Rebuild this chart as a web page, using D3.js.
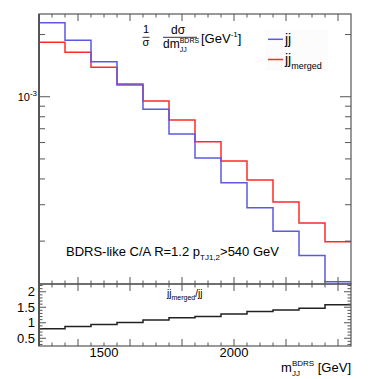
<!DOCTYPE html>
<html><head><meta charset="utf-8">
<script src="https://cdn.jsdelivr.net/npm/d3@7"></script>
<style>body{margin:0;background:#fff}svg{display:block}text{font-family:"Liberation Sans",Arial,sans-serif;fill:#000}</style>
</head><body><svg id="c" width="390" height="379"></svg>
<script>
const binEdges = [1250,1350,1450,1550,1650,1750,1850,1950,2050,2150,2250,2350,2450];
const jj = [2.28e-3,1.876e-3,1.477e-3,1.139e-3,8.69e-4,6.60e-4,5.05e-4,3.83e-4,2.90e-4,2.23e-4,1.706e-4,1.271e-4];
const jjMerged = [1.834e-3,1.641e-3,1.388e-3,1.152e-3,9.53e-4,7.71e-4,6.05e-4,4.88e-4,3.95e-4,3.09e-4,2.445e-4,1.985e-4];
const ratio = [0.81,0.88,0.94,1.01,1.09,1.16,1.20,1.28,1.36,1.41,1.47,1.58];
const xTickLabels = [1500,2000];
const ratioTickLabels = [0.5,1,1.5,2];

const svg = d3.select("#c");
const L=39,R=351,T=14,MB=284,RB=346;
const x = d3.scaleLinear().domain([1250,2450]).range([L,R]);
const y = d3.scaleLog().domain([1.24e-4,2.515e-3]).range([MB,T]);
const yr = d3.scaleLinear().domain([0.25,2.25]).range([RB,MB]);
const frameCol="#555";

function stepPath(vals, ys){
  const pts = vals.map((v,i)=>[binEdges[i],v]);
  pts.push([binEdges[binEdges.length-1], vals[vals.length-1]]);
  return d3.line().x(d=>x(d[0])).y(d=>ys(d[1])).curve(d3.curveStepAfter)(pts);
}

// legend background (very faint)
svg.append("rect").attr("x",265).attr("y",29).attr("width",63).attr("height",42).attr("fill","#fcfcfc");

// histograms
svg.append("path").attr("d",stepPath(jjMerged,y)).attr("fill","none").attr("stroke","#ff2a2a").attr("stroke-width",1.5);
svg.append("path").attr("d",stepPath(jj,y)).attr("fill","none").attr("stroke","#5a5ae0").attr("stroke-width",1.5);
svg.append("path").attr("d",stepPath(ratio,yr)).attr("fill","none").attr("stroke","#222").attr("stroke-width",1.5);

// frames
const g = svg.append("g").attr("stroke",frameCol).attr("fill","none");
g.append("rect").attr("x",L).attr("y",T).attr("width",R-L).attr("height",MB-T).attr("stroke-width",1.2);
g.append("rect").attr("x",L).attr("y",MB).attr("width",R-L).attr("height",RB-MB).attr("stroke-width",1.2);
g.append("line").attr("x1",L).attr("x2",L).attr("y1",T).attr("y2",RB).attr("stroke-width",2);

// x ticks (both panes, top and bottom inward)
const xt = d3.range(1300,2450,50);
function xTicks(yy, dir){
  xt.forEach(v=>{
    const big = v%200===0;
    const len = big?7:3.5;
    g.append("line").attr("x1",x(v)).attr("x2",x(v)).attr("y1",yy).attr("y2",yy+dir*len).attr("stroke-width",1);
  });
}
xTicks(T,1); xTicks(MB,-1); xTicks(MB,1); xTicks(RB,-1);

// log y ticks main
const ylt=[];
[1e-4,1e-3].forEach(d=>{for(let k=1;k<10;k++){const v=d*k; if(v>=1.24e-4&&v<=2.515e-3) ylt.push(v);}});
ylt.forEach(v=>{
  const major = Math.abs(v-1e-3)<1e-9;
  const len = major?11:6;
  g.append("line").attr("x1",L).attr("x2",L+len).attr("y1",y(v)).attr("y2",y(v)).attr("stroke-width",1);
  g.append("line").attr("x1",R).attr("x2",R-len).attr("y1",y(v)).attr("y2",y(v)).attr("stroke-width",1);
});
// ratio y ticks
d3.range(3,23).map(i=>i/10).forEach(v=>{
  const major = Math.abs(v*2-Math.round(v*2))<1e-6;
  const len = major?7:3.5;
  g.append("line").attr("x1",L).attr("x2",L+len).attr("y1",yr(v)).attr("y2",yr(v)).attr("stroke-width",1);
  g.append("line").attr("x1",R).attr("x2",R-len).attr("y1",yr(v)).attr("y2",yr(v)).attr("stroke-width",1);
});

// labels
xTickLabels.forEach(v=>svg.append("text").attr("x",x(v)).attr("y",357).attr("text-anchor","middle").attr("font-size",13).text(v));
ratioTickLabels.forEach(v=>svg.append("text").attr("x",L-4).attr("y",yr(v)+4.5).attr("text-anchor","end").attr("font-size",13).text(v));
const ym = svg.append("text").attr("x",L-2).attr("y",y(1e-3)+4).attr("text-anchor","end").attr("font-size",11);
ym.append("tspan").text("10");
ym.append("tspan").attr("dy",-5).attr("font-size",8).text("-3");

// x axis title
const xtl = svg.append("text").attr("x",R).attr("y",372).attr("text-anchor","end").attr("font-size",13);
xtl.append("tspan").text("m");
xtl.append("tspan").attr("font-size",8).attr("dy",4).text("JJ");
xtl.append("tspan").attr("font-size",8).attr("dx",-8).attr("dy",-10).text("BDRS");
xtl.append("tspan").attr("dy",6).text(" [GeV]");

// y title
svg.append("text").attr("x",146).attr("y",33).attr("text-anchor","middle").attr("font-size",11).text("1");
svg.append("line").attr("x1",142.5).attr("x2",149.5).attr("y1",37.3).attr("y2",37.3).attr("stroke","#000").attr("stroke-width",0.8);
svg.append("text").attr("x",146).attr("y",46).attr("text-anchor","middle").attr("font-size",11).text("σ");
svg.append("text").attr("x",178).attr("y",34).attr("text-anchor","middle").attr("font-size",12).text("dσ");
svg.append("line").attr("x1",163).attr("x2",197).attr("y1",37.3).attr("y2",37.3).attr("stroke","#000").attr("stroke-width",0.8);
const dm = svg.append("text").attr("x",163).attr("y",47.5).attr("font-size",12);
dm.append("tspan").text("dm");
dm.append("tspan").attr("font-size",7).attr("dy",4).text("JJ");
dm.append("tspan").attr("font-size",7).attr("dx",-7).attr("dy",-9).text("BDRS");
const gev = svg.append("text").attr("x",201).attr("y",43).attr("font-size",13);
gev.append("tspan").text("[GeV");
gev.append("tspan").attr("font-size",8).attr("dy",-6).text("-1");
gev.append("tspan").attr("dy",6).text("]");

// legend
svg.append("line").attr("x1",268).attr("x2",283).attr("y1",39.3).attr("y2",39.3).attr("stroke","#5a5ae0").attr("stroke-width",1.5);
svg.append("line").attr("x1",268).attr("x2",283).attr("y1",59.5).attr("y2",59.5).attr("stroke","#ff2a2a").attr("stroke-width",1.5);
svg.append("text").attr("x",285).attr("y",44).attr("font-size",14).text("jj");
const lm = svg.append("text").attr("x",285).attr("y",64).attr("font-size",14);
lm.append("tspan").text("jj");
lm.append("tspan").attr("font-size",9).attr("dy",5).text("merged");

// annotation
const an = svg.append("text").attr("x",66).attr("y",256).attr("font-size",13);
an.append("tspan").text("BDRS-like C/A R=1.2 p");
an.append("tspan").attr("font-size",8).attr("dy",4).text("TJ1,2");
an.append("tspan").attr("dy",-4).text(">540 GeV");

// ratio label
const rl = svg.append("text").attr("x",167).attr("y",297).attr("font-size",10);
rl.append("tspan").text("jj");
rl.append("tspan").attr("font-size",7).attr("dy",3).text("merged");
rl.append("tspan").attr("dy",-3).text("/jj");
</script></body></html>
